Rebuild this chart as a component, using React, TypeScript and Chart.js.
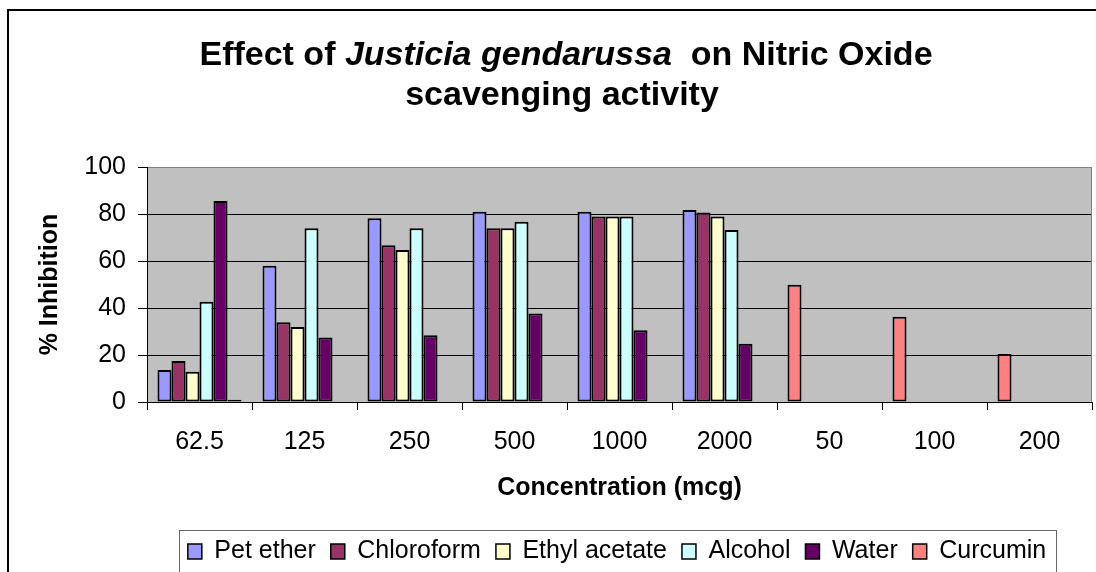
import React, { useEffect, useRef } from 'react';
import { Chart, registerables } from 'chart.js';

Chart.register(...registerables);

// ---------- data ----------
const categories = ['62.5', '125', '250', '500', '1000', '2000', '50', '100', '200'];
const petEther = [13.6, 58.0, 78.2, 81.0, 81.0, 81.7, null, null, null];
const chloroform = [17.4, 33.9, 66.7, 73.9, 78.9, 80.6, null, null, null];
const ethylAcetate = [12.9, 31.9, 64.7, 73.9, 78.9, 78.9, null, null, null];
const alcohol = [42.7, 73.9, 73.9, 76.7, 78.9, 73.2, null, null, null];
const water = [85.5, 27.5, 28.4, 37.7, 30.5, 24.8, null, null, null];
const curcumin = [1.0, null, null, null, null, null, 49.9, 36.3, 20.4];

const seriesNames = ['Pet ether', 'Chloroform', 'Ethyl acetate', 'Alcohol', 'Water', 'Curcumin'];
const seriesColors = ['#9999FF', '#993366', '#FFFFCC', '#CCFFFF', '#660066', '#FF8080'];

const titleLine1 = [
  { text: 'Effect of ', italic: false },
  { text: 'Justicia gendarussa', italic: true },
  { text: '  on Nitric Oxide', italic: false },
];
const titleLine2 = 'scavenging activity';
const yAxisTitle = '% Inhibition';
const xAxisTitle = 'Concentration (mcg)';

const FONT = 'Arial, "Liberation Sans", Helvetica, sans-serif';

const LEGEND_SHIFT_X = 71;
const LEGEND_SHIFT_Y = 2;

const framePlugin = {
  id: 'frame',
  beforeDraw(chart: any) {
    const { ctx, chartArea } = chart;
    ctx.save();
    ctx.fillStyle = '#fff';
    ctx.fillRect(0, 0, chart.width, chart.height);
    ctx.strokeStyle = '#000';
    ctx.lineWidth = 2;
    ctx.strokeRect(8, 10, chart.width + 100, chart.height + 100);
    ctx.fillStyle = '#C0C0C0';
    ctx.fillRect(chartArea.left, chartArea.top, chartArea.right - chartArea.left, chartArea.bottom - chartArea.top);
    ctx.restore();
  },
  afterLayout(chart: any) {
    const lg = chart.legend;
    if (lg) {
      lg.left += LEGEND_SHIFT_X;
      lg.right += LEGEND_SHIFT_X;
      lg.top += LEGEND_SHIFT_Y;
      lg.bottom += LEGEND_SHIFT_Y;
    }
  },
  afterDraw(chart: any) {
    const { ctx, chartArea } = chart;
    ctx.save();
    // plot right border
    ctx.strokeStyle = '#808080';
    ctx.lineWidth = 1;
    ctx.beginPath();
    ctx.moveTo(chartArea.right - 0.5, chartArea.top);
    ctx.lineTo(chartArea.right - 0.5, chartArea.bottom);
    ctx.stroke();
    // legend frame
    const hb = chart.legend && chart.legend.legendHitBoxes;
    if (hb && hb.length) {
      const first = hb[0];
      const last = hb[hb.length - 1];
      const l = Math.round(first.left - 9) + 0.5;
      const r = Math.round(last.left + last.width + 10) + 0.5;
      const t = Math.round(first.top - 9) + 0.5;
      ctx.strokeStyle = '#666';
      ctx.strokeRect(l, t, r - l, 200);
    }
    // title
    ctx.fillStyle = '#000';
    ctx.textBaseline = 'middle';
    ctx.textAlign = 'left';
    const size = 34;
    const fontFor = (it: boolean) => `${it ? 'italic ' : ''}bold ${size}px ${FONT}`;
    let total = 0;
    for (const seg of titleLine1) {
      ctx.font = fontFor(seg.italic);
      total += ctx.measureText(seg.text).width;
    }
    const cx = 566;
    let x = cx - total / 2;
    for (const seg of titleLine1) {
      ctx.font = fontFor(seg.italic);
      ctx.fillText(seg.text, x, 56);
      x += ctx.measureText(seg.text).width;
    }
    ctx.font = fontFor(false);
    ctx.textAlign = 'center';
    ctx.fillText(titleLine2, cx - 4, 96);
    ctx.restore();
  },
};

export default function App() {
  const ref = useRef<HTMLCanvasElement | null>(null);

  useEffect(() => {
    document.body.style.margin = '0';
    const canvas = ref.current!;
    Chart.defaults.color = '#000';
    Chart.defaults.font.family = FONT;

    const firstSlot = categories.map((_, i) => (petEther[i] != null ? petEther[i] : curcumin[i]));
    const firstSlotColors = categories.map((_, i) => (petEther[i] != null ? seriesColors[0] : seriesColors[5]));
    const curcuminSlot = categories.map((_, i) => (petEther[i] != null ? curcumin[i] : null));

    const values = [firstSlot, chloroform, ethylAcetate, alcohol, water, curcuminSlot];

    const datasets = seriesNames.map((name, i) => ({
      label: name,
      data: values[i],
      backgroundColor: i === 0 ? firstSlotColors : seriesColors[i],
      borderColor: '#000',
      borderWidth: 2,
      borderSkipped: false,
      categoryPercentage: 0.8,
      barPercentage: 1.0,
    }));

    const chart = new Chart(canvas, {
      type: 'bar',
      data: { labels: categories, datasets: datasets as any },
      options: {
        responsive: false,
        animation: false,
        devicePixelRatio: 1,
        layout: { padding: { top: 167, left: 0, right: 4, bottom: 0 } },
        plugins: {
          title: { display: false },
          tooltip: { enabled: false },
          legend: {
            display: true,
            position: 'bottom',
            labels: {
              boxWidth: 14,
              boxHeight: 15,
              padding: 15,
              color: '#000',
              font: { size: 25, family: FONT },
              generateLabels: (c: any) =>
                c.data.datasets.map((ds: any, i: number) => ({
                  text: ds.label,
                  fillStyle: seriesColors[i],
                  strokeStyle: '#000',
                  lineWidth: 1.5,
                  hidden: false,
                  datasetIndex: i,
                })),
            },
          },
        },
        scales: {
          x: {
            type: 'category',
            offset: true,
            grid: { display: true, offset: true, drawOnChartArea: false, drawTicks: true, tickLength: 8, color: '#000' },
            border: { display: true, color: '#000', width: 1 },
            ticks: { color: '#000', font: { size: 25, family: FONT }, padding: 17, maxRotation: 0, autoSkip: false },
            title: {
              display: true,
              text: xAxisTitle,
              color: '#000',
              font: { size: 25, weight: 'bold', family: FONT },
              padding: { top: 0, bottom: 19 },
            },
            afterFit: (s: any) => {
              s.height = 120;
            },
          },
          y: {
            min: 0,
            max: 100,
            ticks: { stepSize: 20, color: '#000', font: { size: 25, family: FONT }, padding: 12 },
            grid: {
              color: (c: any) => (c.tick && c.tick.value === 100 ? '#808080' : '#000'),
              tickColor: '#000',
              tickLength: 9,
              lineWidth: 1,
            },
            border: { display: true, color: '#000', width: 1 },
            title: {
              display: true,
              text: yAxisTitle,
              color: '#000',
              font: { size: 25, weight: 'bold', family: FONT },
              padding: { top: 35, bottom: 0 },
            },
            afterFit: (s: any) => {
              s.width = 147;
            },
          },
        },
      },
      plugins: [framePlugin],
    } as any);

    return () => chart.destroy();
  }, []);

  return (
    <div style={{ width: 1096, height: 572, overflow: 'hidden', position: 'relative' }}>
      <canvas ref={ref} width={1096} height={572} style={{ display: 'block' }} />
    </div>
  );
}
